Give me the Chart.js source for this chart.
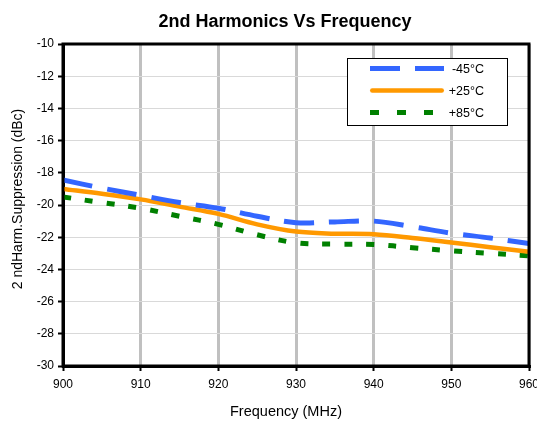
<!DOCTYPE html>
<html>
<head>
<meta charset="utf-8">
<title>2nd Harmonics Vs Frequency</title>
<script src="https://cdn.jsdelivr.net/npm/chart.js@4/dist/chart.umd.min.js"></script>
<style>
    html, body { margin: 0; padding: 0; background: #fff; }
    #wrap { position: relative; width: 537px; height: 422px; }
</style>
</head>
<body>
<div id="wrap"><canvas id="harmonicsChart"></canvas></div>
<script>
'use strict';

// ============================================================================
// Data
// ============================================================================

const frequencies = [900, 905, 910, 915, 920, 925, 930, 935, 940, 945, 950, 955, 960];
const suppressionMinus45 = [-18.45, -18.95, -19.4, -19.85, -20.2, -20.7, -21.1, -21.05, -21.0, -21.35, -21.75, -22.05, -22.4];
const suppressionPlus25 = [-19.0, -19.3, -19.65, -20.1, -20.55, -21.2, -21.65, -21.78, -21.82, -22.05, -22.33, -22.62, -22.9];
const suppressionPlus85 = [-19.5, -19.85, -20.2, -20.7, -21.2, -21.85, -22.35, -22.43, -22.45, -22.65, -22.85, -23.0, -23.15];
const seriesLabels = ['-45°C', '+25°C', '+85°C'];

const xTickMin = 900;
const xTickMax = 960;
const xTickStep = 10;
const yTickMin = -30;
const yTickMax = -10;
const yTickStep = 2;

const chartTitle = '2nd Harmonics Vs Frequency';
const xAxisTitle = 'Frequency (MHz)';
const yAxisTitle = '2 ndHarm.Suppression (dBc)';

// ============================================================================
// Helpers
// ============================================================================

const FONT = "'Liberation Sans', Arial, sans-serif";

function toPoints(values) {
    return frequencies.map((f, i) => ({ x: f, y: values[i] }));
}

// Titles drawn by hand so they can sit exactly where the original has them
const headingPlugin = {
    id: 'heading',
    afterDraw(chart) {
        const ctx = chart.ctx;
        ctx.save();
        ctx.fillStyle = '#000';
        ctx.textAlign = 'center';
        ctx.textBaseline = 'alphabetic';

        ctx.font = 'bold 18px ' + FONT;
        ctx.fillText(chartTitle, 285, 26.5);

        ctx.font = '14.5px ' + FONT;
        ctx.fillText(xAxisTitle, 286, 416);

        ctx.translate(18, 199);
        ctx.rotate(-Math.PI / 2);
        ctx.textBaseline = 'middle';
        ctx.font = '14px ' + FONT;
        ctx.fillText(yAxisTitle, 0, 0);
        ctx.restore();
    }
};

// Black frame round the plot area
const framePlugin = {
    id: 'frame',
    afterDatasetsDraw(chart) {
        const { ctx, chartArea: a } = chart;
        ctx.save();
        ctx.strokeStyle = '#000';
        ctx.lineWidth = 3;
        ctx.strokeRect(a.left, a.top, a.right - a.left, a.bottom - a.top);
        ctx.restore();
    }
};

// Legend box inside the plot, top right
const legendDash = [[30, 15], [], [9, 18]];
const boxLegendPlugin = {
    id: 'boxLegend',
    afterDraw(chart) {
        const ctx = chart.ctx;
        ctx.save();
        ctx.fillStyle = '#fff';
        ctx.fillRect(347, 58, 160, 67);
        ctx.strokeStyle = '#000';
        ctx.lineWidth = 1;
        ctx.strokeRect(347.5, 58.5, 160, 67);

        chart.data.datasets.forEach((ds, i) => {
            const y = 68.5 + i * 22;
            ctx.beginPath();
            ctx.setLineDash(legendDash[i]);
            ctx.lineCap = ds.borderCapStyle || 'butt';
            ctx.strokeStyle = ds.borderColor;
            ctx.lineWidth = ds.borderWidth;
            const inset = ds.borderCapStyle === 'round' ? ds.borderWidth / 2 : 0;
            ctx.moveTo(370 + inset, y);
            ctx.lineTo(444 - inset, y);
            ctx.stroke();

            ctx.setLineDash([]);
            ctx.fillStyle = '#000';
            ctx.font = '12.5px ' + FONT;
            ctx.textAlign = 'right';
            ctx.textBaseline = 'middle';
            ctx.fillText(ds.label, 484, y + 1);
        });
        ctx.restore();
    }
};

// ============================================================================
// Chart
// ============================================================================

const canvas = document.getElementById('harmonicsChart');

new Chart(canvas, {
    type: 'line',
    data: {
        datasets: [
            {
                label: seriesLabels[0],
                data: toPoints(suppressionMinus45),
                borderColor: '#3366ff',
                borderWidth: 5,
                borderDash: [30, 15],
                borderCapStyle: 'butt',
                pointRadius: 0,
                tension: 0.35
            },
            {
                label: seriesLabels[1],
                data: toPoints(suppressionPlus25),
                borderColor: '#ff9900',
                borderWidth: 4.5,
                borderCapStyle: 'round',
                pointRadius: 0,
                tension: 0.35
            },
            {
                label: seriesLabels[2],
                data: toPoints(suppressionPlus85),
                borderColor: '#008000',
                borderWidth: 5,
                borderDash: [8, 14],
                borderCapStyle: 'butt',
                pointRadius: 0,
                tension: 0.35
            }
        ]
    },
    options: {
        responsive: true,
        maintainAspectRatio: false,
        animation: false,
        layout: {
            padding: { top: 44, left: 0, right: 8, bottom: 0 }
        },
        plugins: {
            legend: { display: false },
            title: { display: false },
            tooltip: { enabled: false }
        },
        scales: {
            x: {
                type: 'linear',
                min: xTickMin,
                max: xTickMax,
                ticks: {
                    stepSize: xTickStep,
                    color: '#000',
                    padding: 6,
                    maxRotation: 0,
                    font: { family: FONT, size: 12 }
                },
                grid: {
                    color: '#c0c0c0',
                    lineWidth: 3,
                    tickLength: 5,
                    tickColor: '#000',
                    tickWidth: 2
                },
                border: { display: true, color: '#000', width: 3 },
                afterFit(scale) {
                    scale.height = 56;
                    scale.paddingLeft = 0;
                    scale.paddingRight = 0;
                }
            },
            y: {
                min: yTickMin,
                max: yTickMax,
                ticks: {
                    stepSize: yTickStep,
                    color: '#000',
                    padding: 4,
                    font: { family: FONT, size: 12 }
                },
                grid: {
                    color: '#d9d9d9',
                    lineWidth: 1,
                    tickLength: 5,
                    tickColor: '#000',
                    tickWidth: 2
                },
                border: { display: true, color: '#000', width: 3 },
                afterFit(scale) {
                    scale.width = 63;
                }
            }
        }
    },
    plugins: [framePlugin, boxLegendPlugin, headingPlugin]
});
</script>
</body>
</html>
